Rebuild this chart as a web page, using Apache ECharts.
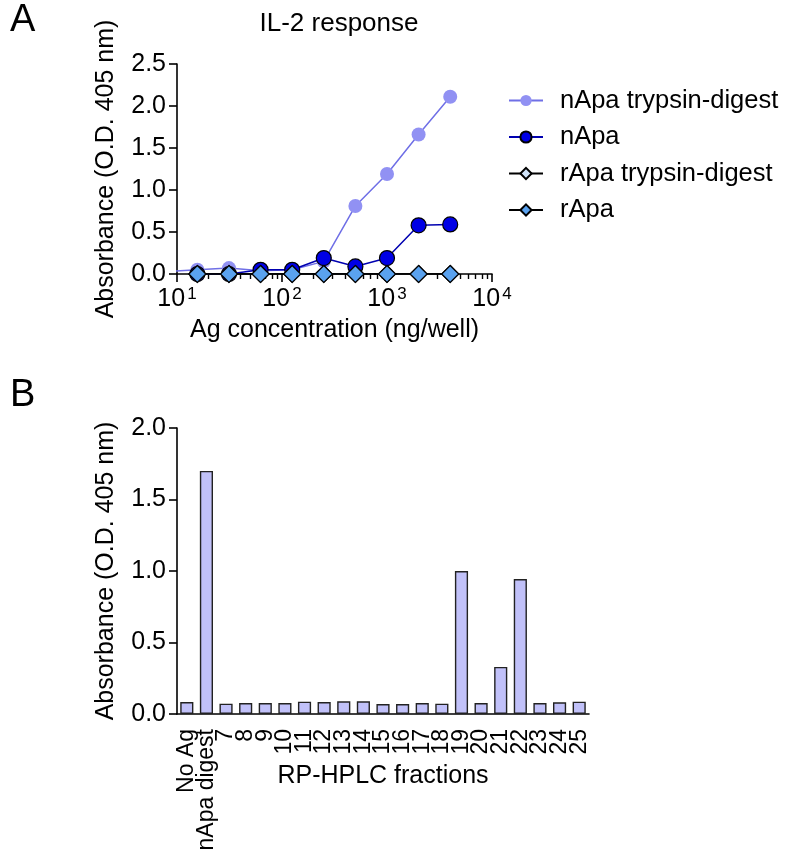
<!DOCTYPE html>
<html><head><meta charset="utf-8">
<script src="https://cdn.jsdelivr.net/npm/echarts@6/dist/echarts.min.js"></script>
<style>html,body{margin:0;padding:0;background:#fff}#c{width:785px;height:861px}</style>
</head><body><div id="c"></div>
<script>
// Panel A data
const concentrations = [7.8125, 15.625, 31.25, 62.5, 125, 250, 500, 1000, 2000, 4000];
const nApaDigest = [0.03, 0.05, 0.07, 0.04, 0.05, 0.15, 0.81, 1.19, 1.66, 2.11];
const nApa = [null, 0.0, 0.0, 0.05, 0.05, 0.19, 0.09, 0.19, 0.58, 0.59];
const rApaDigest = [null, 0.0, 0.0, 0.0, 0.0, 0.0, 0.0, 0.0, 0.0, 0.0];
const rApa = [null, 0.0, 0.0, 0.0, 0.0, 0.0, 0.0, 0.0, 0.0, 0.0];
const seriesNamesA = ['nApa trypsin-digest', 'nApa', 'rApa trypsin-digest', 'rApa'];
const minorTicksA = [20,30,40,50,60,70,80,90,200,300,400,500,600,700,800,900,2000,3000,4000,5000,6000,7000,8000,9000];

// Panel B data
const fractions = ['No Ag','nApa digest','7','8','9','10','11','12','13','14','15','16','17','18','19','20','21','22','23','24','25'];
const fractionValues = [0.084,1.70,0.072,0.077,0.077,0.077,0.086,0.084,0.089,0.089,0.070,0.070,0.077,0.072,1.00,0.077,0.329,0.944,0.077,0.082,0.086];

const FONT = '"Liberation Sans", Arial, Helvetica, sans-serif';
const FS = 25;
const pair = arr => concentrations.map((c, i) => [c, arr[i]]);

const chart = echarts.init(document.getElementById('c'), null, {renderer: 'canvas'});
const axisLine = {lineStyle: {color: '#000', width: 1.6}};
const tickStyle = {lineStyle: {color: '#000', width: 1.6}, length: 8, inside: false};
const nameStyle = {fontFamily: FONT, fontSize: FS, color: '#000'};

chart.setOption({
  animation: false,
  textStyle: {fontFamily: FONT},
  title: {text: 'IL-2 response', left: 334, top: 6, textAlign: 'center',
    textStyle: {fontFamily: FONT, fontSize: 26, fontWeight: 'normal', color: '#000'}},
  graphic: [
    {type: 'text', left: 10, top: 2, style: {text: 'A', font: '38px ' + FONT, fill: '#000'}},
    {type: 'text', left: 10, top: 377, style: {text: 'B', font: '38px ' + FONT, fill: '#000'}}
  ],
  legend: {
    orient: 'vertical', left: 503, top: 82, itemGap: 9.5, itemWidth: 34, itemHeight: 14,
    data: seriesNamesA,
    textStyle: {fontFamily: FONT, fontSize: 25.5, lineHeight: 27, color: '#000', padding: [0, 0, 0, 12]}
  },
  grid: [
    {left: 177, top: 64, width: 315, height: 210, containLabel: false},
    {left: 177, top: 428, width: 412, height: 286, containLabel: false}
  ],
  xAxis: [
    {type: 'log', logBase: 10, min: 10, max: 10000, gridIndex: 0,
      axisLine: axisLine, axisTick: tickStyle, splitLine: {show: false},
      name: 'Ag concentration (ng/well)', nameLocation: 'middle', nameGap: 44, nameMoveOverlap: false,
      nameTextStyle: nameStyle,
      axisLabel: {margin: 12, color: '#000', fontFamily: FONT, fontSize: FS,
        formatter: v => { const e = Math.round(Math.log10(v)); return '{b|10}{s|' + e + '}'; },
        rich: {b: {fontFamily: FONT, fontSize: FS, color: '#000'},
               s: {fontFamily: FONT, fontSize: 17, color: '#000', verticalAlign: 'top', padding: [0,0,9,2]}}}
    },
    {type: 'log', logBase: 10, min: 10, max: 10000, gridIndex: 0, position: 'bottom',
      axisLine: {show: false}, axisLabel: {show: false}, splitLine: {show: false},
      axisTick: {show: true, length: 5, lineStyle: {color: '#000', width: 1.4}, customValues: minorTicksA}
    },
    {type: 'category', data: fractions, gridIndex: 1,
      axisLine: axisLine, axisTick: Object.assign({alignWithLabel: true}, tickStyle),
      name: 'RP-HPLC fractions', nameLocation: 'middle', nameGap: 50, nameMoveOverlap: false,
      nameTextStyle: nameStyle,
      axisLabel: {rotate: 90, interval: 0, margin: 15, color: '#000', fontFamily: FONT, fontSize: 23, lineHeight: 18}
    }
  ],
  yAxis: [
    {type: 'value', min: 0, max: 2.5, interval: 0.5, gridIndex: 0,
      axisLine: Object.assign({show: true}, axisLine), axisTick: Object.assign({show: true}, tickStyle), splitLine: {show: false},
      name: 'Absorbance (O.D. 405 nm)', nameLocation: 'middle', nameGap: 58, nameMoveOverlap: false,
      nameTextStyle: nameStyle,
      axisLabel: {color: '#000', fontFamily: FONT, fontSize: FS, margin: 11, formatter: v => v.toFixed(1)}
    },
    {type: 'value', min: 0, max: 2.0, interval: 0.5, gridIndex: 1,
      axisLine: Object.assign({show: true}, axisLine), axisTick: Object.assign({show: true}, tickStyle), splitLine: {show: false},
      name: 'Absorbance (O.D. 405 nm)', nameLocation: 'middle', nameGap: 58, nameMoveOverlap: false,
      nameTextStyle: nameStyle,
      axisLabel: {color: '#000', fontFamily: FONT, fontSize: FS, margin: 11, formatter: v => v.toFixed(1)}
    }
  ],
  series: [
    {name: seriesNamesA[0], type: 'line', xAxisIndex: 0, yAxisIndex: 0, data: pair(nApaDigest), clip: true,
      symbol: 'circle', symbolSize: 14, z: 2,
      lineStyle: {color: '#6f6fe6', width: 1.5}, itemStyle: {color: '#9191f3', borderWidth: 0}},
    {name: seriesNamesA[1], type: 'line', xAxisIndex: 0, yAxisIndex: 0, data: pair(nApa), clip: true,
      symbol: 'circle', symbolSize: 15, z: 3,
      lineStyle: {color: '#0000b0', width: 1.5}, itemStyle: {color: '#0000e6', borderColor: '#000', borderWidth: 1.2}},
    {name: seriesNamesA[2], type: 'line', xAxisIndex: 0, yAxisIndex: 0, data: pair(rApaDigest), clip: true,
      symbol: 'diamond', symbolSize: [17, 17], z: 4,
      lineStyle: {color: '#000', width: 1.5}, itemStyle: {color: '#cfe2f8', borderColor: '#000', borderWidth: 1.2}},
    {name: seriesNamesA[3], type: 'line', xAxisIndex: 0, yAxisIndex: 0, data: pair(rApa), clip: true,
      symbol: 'diamond', symbolSize: [17, 17], z: 5,
      lineStyle: {color: '#000', width: 1.5}, itemStyle: {color: '#5aa2ef', borderColor: '#000', borderWidth: 1.2}},
    {name: 'fractions', type: 'bar', xAxisIndex: 2, yAxisIndex: 1, data: fractionValues,
      barCategoryGap: '33%', itemStyle: {color: '#c1c1f9', borderColor: '#222', borderWidth: 1.4}}
  ]
});
</script></body></html>
